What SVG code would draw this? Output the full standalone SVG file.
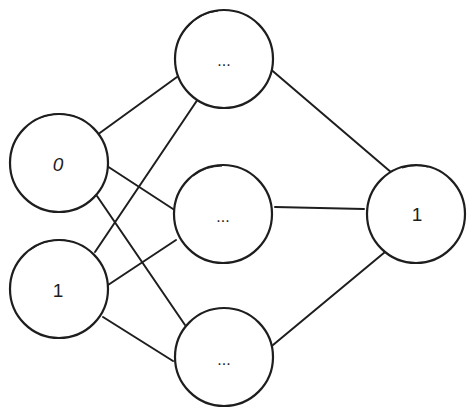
<svg xmlns="http://www.w3.org/2000/svg" width="475" height="416" viewBox="0 0 475 416">
<style>
.n{fill:#fff;stroke:#1e1e1e;stroke-width:2.2}
.n2{fill:none;stroke:#1e1e1e;stroke-width:1.2}
.e{stroke:#1e1e1e;stroke-width:2;fill:none;stroke-linecap:round}
.t{font-family:"Liberation Sans",Arial,sans-serif;font-size:19px;fill:#1e1e1e;text-anchor:middle;dominant-baseline:central}
.d{font-size:16px}
</style>
<rect width="475" height="416" fill="#fff"/>
<g id="connectors">
<line class="e" x1="97" y1="135" x2="177" y2="77"/>
<line class="e" x1="107" y1="166" x2="173" y2="209"/>
<line class="e" x1="97" y1="196" x2="185" y2="325"/>
<line class="e" x1="198" y1="99" x2="95" y2="252"/>
<line class="e" x1="108" y1="285" x2="176" y2="240"/>
<line class="e" x1="103" y1="317" x2="173" y2="361"/>
<line class="e" x1="268" y1="67" x2="392" y2="173"/>
<line class="e" x1="275" y1="207" x2="364" y2="209"/>
<line class="e" x1="273" y1="345" x2="385" y2="252"/>
</g>
<g id="node-in0">
<circle class="n" cx="59" cy="163" r="49"/>
<path class="n2" d="M40 118 A49 49 0 0 1 85 121"/>
<text class="t" x="58" y="164" font-style="italic" font-size="17">0</text>
</g>
<g id="node-in1">
<circle class="n" cx="59" cy="289" r="49"/>
<path class="n2" d="M30 250 A49 49 0 0 1 70 241"/>
<text class="t" x="58" y="290">1</text>
</g>
<g id="node-h0">
<circle class="n" cx="224" cy="59" r="49"/>
<path class="n2" d="M187 27 A49 49 0 0 1 218 11"/>
<text class="t d" x="224" y="60">...</text>
</g>
<g id="node-h1">
<circle class="n" cx="223" cy="214" r="49"/>
<path class="n2" d="M193 176 A49 49 0 0 1 222 166"/>
<text class="t d" x="223" y="216">...</text>
</g>
<g id="node-h2">
<circle class="n" cx="224" cy="357" r="49"/>
<text class="t d" x="224" y="359">...</text>
</g>
<g id="node-out">
<circle class="n" cx="416" cy="214" r="49"/>
<path class="n2" d="M402 168 A49 49 0 0 1 428 167"/>
<text class="t" x="417" y="214">1</text>
</g>
</svg>
